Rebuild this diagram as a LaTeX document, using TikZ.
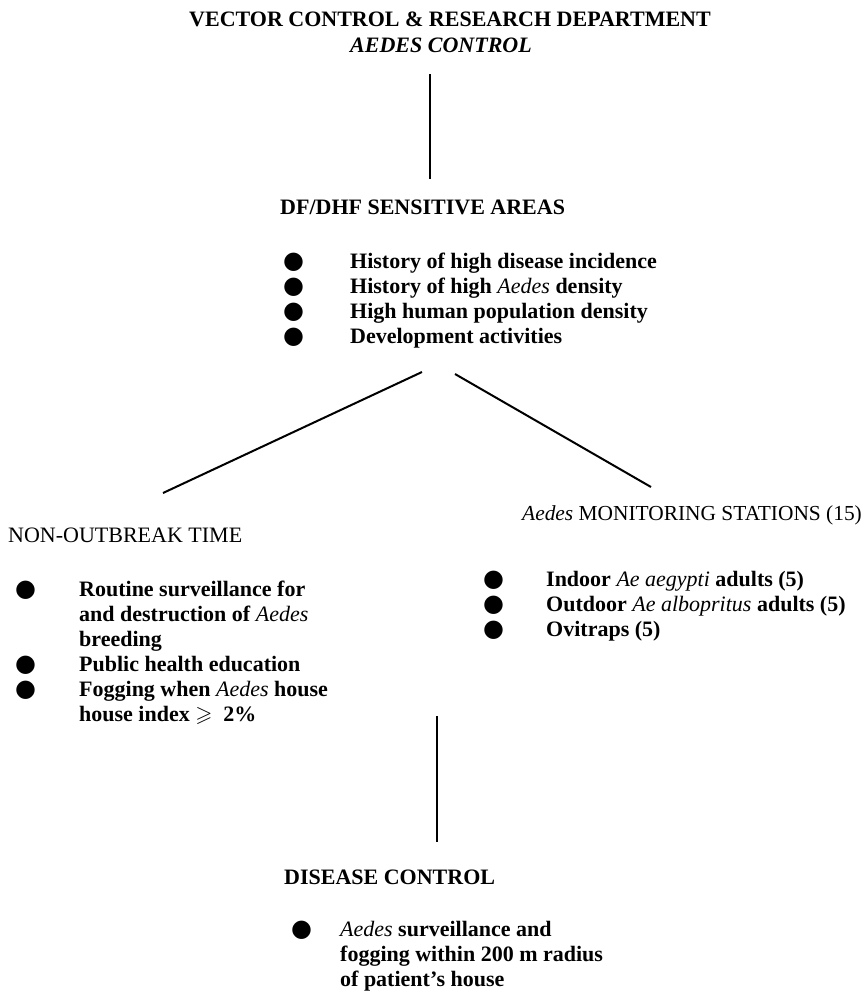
\documentclass[tikz,border=0pt]{standalone}
\usepackage{amssymb}
\usepackage{fontspec}
\setmainfont{Liberation Serif}
\newfontfamily\bulletfont{DejaVu Sans}
\usetikzlibrary{positioning}

\newcommand{\blob}{{\bulletfont\fontsize{24}{25}\selectfont\symbol{"25CF}}}
\newcommand{\genus}[1]{{\mdseries\itshape #1}}

\begin{document}
\begin{tikzpicture}[x=1pt, y=-1pt]
  % Text and line styles
  \tikzstyle{headtext} = [inner sep=0pt, font=\fontsize{22}{25}\selectfont\bfseries]
  \tikzstyle{plainhead} = [inner sep=0pt, font=\fontsize{22}{25}\selectfont]
  \tikzstyle{listbox} = [inner sep=0pt, anchor=base west, font=\fontsize{22}{25}\selectfont\bfseries]
  \tikzstyle{link} = [line width=2pt]

  \useasboundingbox (0,0) rectangle (868,997);

  % Department heading
  \node[headtext, anchor=base] (title) at (450,26) {VECTOR CONTROL \& RESEARCH DEPARTMENT};
  \node[headtext, anchor=base, font=\fontsize{22}{25}\selectfont\bfseries\itshape] (subtitle) at (441,52) {AEDES CONTROL};

  % Sensitive areas
  \node[headtext, anchor=base west] (areas) at (280,214) {DF/DHF SENSITIVE AREAS};
  \node[listbox] (arealist) at (283,268)
    {\begin{tabular}[t]{@{}p{67pt}@{}l@{}}
     \blob & History of high disease incidence\\
     \blob & History of high \genus{Aedes} density\\
     \blob & High human population density\\
     \blob & Development activities
     \end{tabular}};

  % Non-outbreak time
  \node[plainhead, anchor=base west] (nonout) at (8,542) {NON-OUTBREAK TIME};
  \node[listbox] (nonlist) at (15,596)
    {\begin{tabular}[t]{@{}p{64pt}@{}l@{}}
     \blob & Routine surveillance for\\
           & and destruction of \genus{Aedes}\\
           & breeding\\
     \blob & Public health education\\
     \blob & Fogging when \genus{Aedes} house\\
           & house index $\geqslant$\ \ 2\%
     \end{tabular}};

  % Monitoring stations
  \node[plainhead, anchor=base west, font=\fontsize{21.4}{25}\selectfont] (monitor) at (522,520)
    {\genus{Aedes} MONITORING STATIONS (15)};
  \node[listbox] (monlist) at (483,586)
    {\begin{tabular}[t]{@{}p{63pt}@{}l@{}}
     \blob & Indoor \genus{Ae aegypti} adults (5)\\
     \blob & Outdoor \genus{Ae albopritus} adults (5)\\
     \blob & Ovitraps (5)
     \end{tabular}};

  % Disease control
  \node[headtext, anchor=base west] (disease) at (284,884) {DISEASE CONTROL};
  \node[listbox] (dislist) at (291,936)
    {\begin{tabular}[t]{@{}p{49pt}@{}l@{}}
     \blob & \genus{Aedes} surveillance and\\
           & fogging within 200 m radius\\
           & of patient’s house
     \end{tabular}};

  % Line ends
  \coordinate (topend) at (430,74);
  \coordinate (areasin) at (430,179);
  \coordinate (leftfork) at (422,372);
  \coordinate (nonin) at (163,493);
  \coordinate (rightfork) at (455,374);
  \coordinate (monin) at (651,487);
  \coordinate (splitend) at (437,716);
  \coordinate (diseasein) at (437,842);

  % Connecting lines
  \draw[link] (topend) -- (areasin);
  \draw[link] (leftfork) -- (nonin);
  \draw[link] (rightfork) -- (monin);
  \draw[link] (splitend) -- (diseasein);

\end{tikzpicture}
\end{document}
